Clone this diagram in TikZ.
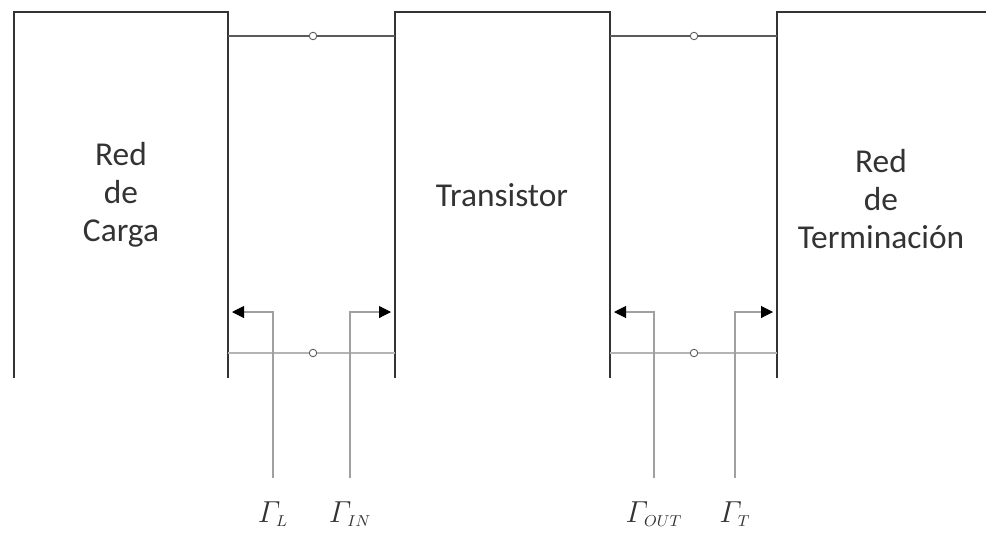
\documentclass[tikz,border=0pt]{standalone}
\usepackage{amsmath,amssymb}
\usepackage{fontspec}
\setmainfont{Carlito}
\usepackage{xcolor}
\usepackage{tikz}
\usetikzlibrary{arrows.meta,calc}
\definecolor{edge}{HTML}{333333}
\definecolor{wire}{HTML}{5A5A5A}
\definecolor{lwire}{HTML}{B4B4B4}
\definecolor{lead}{HTML}{A0A0A0}
\tikzset{
  boxLine/.style={draw=edge, line width=1.4pt},
  topWire/.style={draw=wire, line width=0.8pt},
  botWire/.style={draw=lwire, line width=0.6pt},
  port/.style={circle, draw=wire, fill=white, line width=0.5pt, inner sep=0pt, minimum size=0.15cm},
  refl/.style={draw=lead, line width=0.6pt, -{Triangle[length=0.24cm, width=0.24cm, color=black]}},
  blockText/.style={align=center, font=\fontsize{19}{21.5}\selectfont, text=edge},
  gamLab/.style={below, font=\fontsize{19}{22}\selectfont, text=edge, inner sep=0pt}
}

\begin{document}
\begin{tikzpicture}
  \useasboundingbox (0,0) rectangle (19.72,-10.88);

  % blocks
  \coordinate (LA) at (0.28,-7.56);
  \coordinate (LB) at (0.28,-0.24);
  \coordinate (LC) at (4.56,-0.24);
  \coordinate (LD) at (4.56,-7.56);
  \coordinate (MA) at (7.9,-7.56);
  \coordinate (MB) at (7.9,-0.24);
  \coordinate (MC) at (12.2,-0.24);
  \coordinate (MD) at (12.2,-7.56);
  \coordinate (RA) at (15.54,-7.56);
  \coordinate (RB) at (15.54,-0.24);
  \coordinate (RC) at (19.72,-0.24);

  \draw[boxLine] (LA)--(LB)--(LC)--(LD);
  \draw[boxLine] (MA)--(MB)--(MC)--(MD);
  \draw[boxLine] (RA)--(RB)--(RC);

  \node[blockText] (carga) at (2.42,-3.9) {Red\\de\\Carga};
  \node[blockText] (trans) at (10.04,-3.9) {Transistor};
  \node[blockText] (term) at (17.62,-3.98) {Red\\de\\Terminación};

  % ports
  \node[port] (p1) at (6.26,-0.72) {};
  \node[port] (p2) at (6.26,-7.06) {};
  \node[port] (p3) at (13.88,-0.72) {};
  \node[port] (p4) at (13.88,-7.06) {};

  \draw[topWire] (4.56,-0.72)--(p1)--(7.9,-0.72);
  \draw[botWire] (4.56,-7.06)--(p2)--(7.9,-7.06);
  \draw[topWire] (12.2,-0.72)--(p3)--(15.54,-0.72);
  \draw[botWire] (12.2,-7.06)--(p4)--(15.54,-7.06);

  % reflection coefficients
  \coordinate (gL) at (5.46,-9.56);
  \coordinate (gIN) at (7.0,-9.56);
  \coordinate (gOUT) at (13.08,-9.56);
  \coordinate (gT) at (14.7,-9.56);

  \draw[refl] (gL)--(5.46,-6.24)--(4.64,-6.24);
  \draw[refl] (gIN)--(7.0,-6.24)--(7.82,-6.24);
  \draw[refl] (gOUT)--(13.08,-6.24)--(12.28,-6.24);
  \draw[refl] (gT)--(14.7,-6.24)--(15.46,-6.24);

  \node[gamLab] (lL) at ($(gL)+(0,-0.46)$) {$\varGamma_{\scriptscriptstyle L}$};
  \node[gamLab] (lIN) at ($(gIN)+(0,-0.46)$) {$\varGamma_{\scriptscriptstyle IN}$};
  \node[gamLab] (lOUT) at ($(gOUT)+(0,-0.46)$) {$\varGamma_{\scriptscriptstyle OUT}$};
  \node[gamLab] (lT) at ($(gT)+(0,-0.46)$) {$\varGamma_{\scriptscriptstyle T}$};
\end{tikzpicture}
\end{document}
